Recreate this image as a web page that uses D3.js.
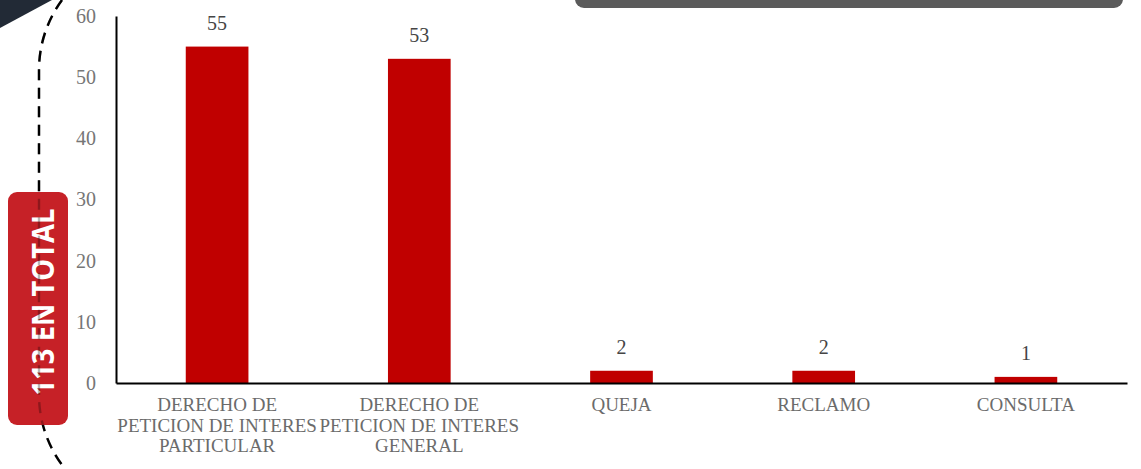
<!DOCTYPE html>
<html lang="es">
<head>
    <meta charset="UTF-8">
    <title>Solicitudes por tipo</title>
    <script src="https://d3js.org/d3.v7.min.js"></script>
    <style>
        body { margin: 0; background: #ffffff; }
        svg { display: block; }
    </style>
</head>
<body>
    <div id="chart"></div>
    <script>
        // Data
        const categories = [
            ["DERECHO DE", "PETICION DE INTERES", "PARTICULAR"],
            ["DERECHO DE", "PETICION DE INTERES", "GENERAL"],
            ["QUEJA"],
            ["RECLAMO"],
            ["CONSULTA"]
        ];
        const values = [55, 53, 2, 2, 1];
        const yTicks = [0, 10, 20, 30, 40, 50, 60];
        const totalLabel = "113 EN TOTAL";

        const width = 1141, height = 469;
        const margin = { top: 16, right: 14, bottom: 86, left: 116 };
        const serif = "'Liberation Serif', 'DejaVu Serif', serif";

        const svg = d3.select("#chart")
            .append("svg")
            .attr("width", width)
            .attr("height", height);

        // Decorations: dark corner and gray box at top
        svg.append("path")
            .attr("d", "M0,0 L52,0 L0,28 Z")
            .attr("fill", "#222a36");

        svg.append("rect")
            .attr("x", 575)
            .attr("y", -12)
            .attr("width", 548)
            .attr("height", 20)
            .attr("rx", 9)
            .attr("fill", "#5b5b5b");

        // Dashed curve on the left
        const curve = "M62,0 A118,118 0 0 0 39,70 L39,395 A118,118 0 0 0 66,470";
        svg.append("path")
            .attr("d", curve)
            .attr("fill", "none")
            .attr("stroke", "#000")
            .attr("stroke-width", 2.4)
            .attr("stroke-dasharray", "11,7.5");

        // Scales
        const x = d3.scaleBand()
            .domain(d3.range(values.length))
            .range([margin.left, width - margin.right])
            .paddingInner(0.69)
            .paddingOuter(0.345);

        const y = d3.scaleLinear()
            .domain([0, 60])
            .range([height - margin.bottom, margin.top]);

        // Bars
        svg.append("g")
            .selectAll("rect")
            .data(values)
            .join("rect")
            .attr("x", (d, i) => x(i))
            .attr("y", d => y(d))
            .attr("width", x.bandwidth())
            .attr("height", d => y(0) - y(d))
            .attr("fill", "#c00000");

        // Value labels
        svg.append("g")
            .selectAll("text")
            .data(values)
            .join("text")
            .attr("x", (d, i) => x(i) + x.bandwidth() / 2)
            .attr("y", d => y(d) - 17)
            .attr("text-anchor", "middle")
            .attr("font-family", serif)
            .attr("font-size", 20)
            .attr("fill", "#454545")
            .text(d => d);

        // Y axis
        const yAxis = svg.append("g")
            .attr("transform", `translate(${margin.left},0)`)
            .call(d3.axisLeft(y).tickValues(yTicks).tickSize(0).tickPadding(20));
        yAxis.select(".domain").attr("stroke", "#000").attr("stroke-width", 2);
        yAxis.selectAll("text")
            .attr("font-family", serif)
            .attr("font-size", 20)
            .attr("fill", "#767676");

        // X axis
        const xAxis = svg.append("g")
            .attr("transform", `translate(0,${y(0)})`)
            .call(d3.axisBottom(x).tickSize(0).tickFormat(""));
        xAxis.select(".domain").attr("stroke", "#000").attr("stroke-width", 2);

        // Category labels (multi-line)
        const labels = svg.append("g")
            .selectAll("text")
            .data(categories)
            .join("text")
            .attr("x", (d, i) => x(i) + x.bandwidth() / 2)
            .attr("y", 411)
            .attr("text-anchor", "middle")
            .attr("font-family", serif)
            .attr("font-size", 19)
            .attr("fill", "#6b6b6b");
        labels.each(function (lines, i) {
            d3.select(this).selectAll("tspan")
                .data(lines)
                .join("tspan")
                .attr("x", x(i) + x.bandwidth() / 2)
                .attr("dy", (l, j) => j === 0 ? 0 : 20.5)
                .text(l => l);
        });

        // Total label
        svg.append("rect")
            .attr("x", 8)
            .attr("y", 192)
            .attr("width", 60)
            .attr("height", 233)
            .attr("rx", 9)
            .attr("fill", "#c62127");

        svg.append("text")
            .attr("transform", "translate(42,302) rotate(-90)")
            .attr("text-anchor", "middle")
            .attr("dominant-baseline", "central")
            .attr("font-family", "'Open Sans', 'Noto Sans', sans-serif")
            .attr("font-weight", "bold")
            .attr("font-size", 30)
            .attr("textLength", 187)
            .attr("lengthAdjust", "spacingAndGlyphs")
            .attr("fill", "#ffffff")
            .text(totalLabel);

        // Curve shows faintly through the label
        svg.append("path")
            .attr("d", curve)
            .attr("fill", "none")
            .attr("stroke", "#000")
            .attr("stroke-opacity", 0.28)
            .attr("stroke-width", 2.4)
            .attr("stroke-dasharray", "11,7.5");
    </script>
</body>
</html>
